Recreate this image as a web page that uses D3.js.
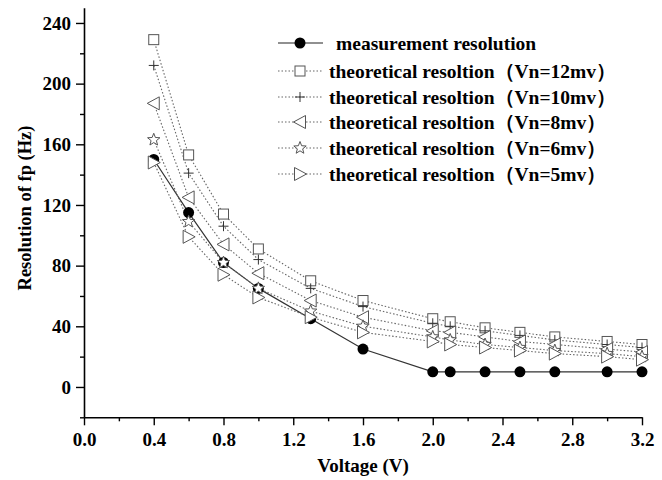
<!DOCTYPE html>
<html>
<head>
<meta charset="utf-8">
<script src="https://cdn.jsdelivr.net/npm/d3@7/dist/d3.min.js"></script>
<style>
  html, body { margin: 0; padding: 0; background: #fff; }
  svg { display: block; }
  text { font-family: "Liberation Serif", "Times New Roman", serif; font-weight: bold; fill: #000; }
</style>
</head>
<body>
<svg id="chart" width="662" height="480"></svg>
<script>
// ---- data ----
const voltage = [0.4, 0.6, 0.8, 1.0, 1.3, 1.6, 2.0, 2.1, 2.3, 2.5, 2.7, 3.0, 3.2];
const measured = [150, 115, 82, 65, 45, 25, 10, 10, 10, 10, 10, 10, 10];
const vn12 = [229, 153, 114, 91, 70, 57, 45, 43, 39, 36, 33, 30, 28];
const vn10 = [212, 141, 106, 84, 65, 53, 42, 40, 37, 34, 31, 28, 26];
const vn8  = [187, 125, 94, 75, 57, 46, 37, 36, 33, 30, 28, 25, 23];
const vn6  = [163, 109, 82, 65, 50, 40, 33, 31, 28, 26, 24, 22, 20];
const vn5  = [148, 99, 74, 59, 46, 36, 30, 28, 26, 24, 22, 20, 18];
const seriesNames = [
  "measurement resolution",
  "theoretical resoltion（Vn=12mv）",
  "theoretical resoltion（Vn=10mv）",
  "theoretical resoltion（Vn=8mv）",
  "theoretical resoltion（Vn=6mv）",
  "theoretical resoltion（Vn=5mv）"
];
const xTicks = [0.0, 0.4, 0.8, 1.2, 1.6, 2.0, 2.4, 2.8, 3.2];
const xMinor = [0.2, 0.6, 1.0, 1.4, 1.8, 2.2, 2.6, 3.0];
const yTicks = [0, 40, 80, 120, 160, 200, 240];
const yMinor = [-20, 20, 60, 100, 140, 180, 220];

// ---- layout ----
const svg = d3.select("#chart");
const x = d3.scaleLinear().domain([0, 3.2]).range([84, 642]);
const y = d3.scaleLinear().domain([-20, 250]).range([417.3, 7.8]);

const grey = "#555";

// axes
const xAxisG = svg.append("g").attr("transform", `translate(0,${y(-20)})`);
xAxisG.call(d3.axisBottom(x).tickValues(xTicks).tickFormat(d3.format(".1f")).tickSize(8).tickSizeOuter(0).tickPadding(7));
const xMinorG = svg.append("g").attr("transform", `translate(0,${y(-20)})`);
xMinorG.call(d3.axisBottom(x).tickValues(xMinor).tickFormat("").tickSize(4).tickSizeOuter(0));
xMinorG.select(".domain").remove();

const yAxisG = svg.append("g").attr("transform", `translate(${x(0)},0)`);
yAxisG.call(d3.axisLeft(y).tickValues(yTicks).tickSize(8).tickSizeOuter(0).tickPadding(5));
const yMinorG = svg.append("g").attr("transform", `translate(${x(0)},0)`);
yMinorG.call(d3.axisLeft(y).tickValues(yMinor).tickFormat("").tickSize(4).tickSizeOuter(0));
yMinorG.select(".domain").remove();

svg.selectAll(".domain").attr("stroke", "#000").attr("stroke-width", 1.6);
svg.selectAll(".tick line").attr("stroke", "#000").attr("stroke-width", 1.4);
svg.selectAll(".tick text").style("font-family", "'Liberation Serif', serif").style("font-weight", "bold").style("font-size", "19px").attr("fill", "#000");

// axis titles
svg.append("text").attr("x", 363).attr("y", 472).attr("text-anchor", "middle")
  .style("font-size", "19px").text("Voltage (V)");
svg.append("text").attr("transform", "translate(31,208) rotate(-90)").attr("text-anchor", "middle")
  .style("font-size", "18.5px").text("Resolution of fp (Hz)");

// symbols
function drawSymbol(g, type, cx, cy) {
  const s = 5;
  if (type === "dot") {
    g.append("circle").attr("cx", cx).attr("cy", cy).attr("r", 5.5).attr("fill", "#000");
  } else if (type === "square") {
    g.append("rect").attr("x", cx - s).attr("y", cy - s).attr("width", 2 * s).attr("height", 2 * s)
      .attr("fill", "#fff").attr("stroke", grey).attr("stroke-width", 1);
  } else if (type === "plus") {
    g.append("path").attr("d", `M${cx - s},${cy}H${cx + s}M${cx},${cy - s}V${cy + s}`)
      .attr("stroke", "#333").attr("stroke-width", 1).attr("fill", "none");
  } else if (type === "left") {
    g.append("path").attr("d", `M${cx - 6.5},${cy}L${cx + 5.5},${cy - 6.5}L${cx + 5.5},${cy + 6.5}Z`)
      .attr("fill", "#fff").attr("stroke", grey).attr("stroke-width", 1);
  } else if (type === "right") {
    g.append("path").attr("d", `M${cx + 6.5},${cy}L${cx - 5.5},${cy - 6.5}L${cx - 5.5},${cy + 6.5}Z`)
      .attr("fill", "#fff").attr("stroke", grey).attr("stroke-width", 1);
  } else if (type === "star") {
    const pts = [];
    for (let i = 0; i < 10; i++) {
      const r = i % 2 === 0 ? 6.5 : 2.8;
      const a = -Math.PI / 2 + i * Math.PI / 5;
      pts.push([cx + r * Math.cos(a), cy + r * Math.sin(a)]);
    }
    g.append("path").attr("d", "M" + pts.map(p => p.join(",")).join("L") + "Z")
      .attr("fill", "#fff").attr("stroke", grey).attr("stroke-width", 1);
  }
}

const series = [
  { name: seriesNames[0], values: measured, sym: "dot", solid: true },
  { name: seriesNames[1], values: vn12, sym: "square" },
  { name: seriesNames[2], values: vn10, sym: "plus" },
  { name: seriesNames[3], values: vn8, sym: "left" },
  { name: seriesNames[4], values: vn6, sym: "star" },
  { name: seriesNames[5], values: vn5, sym: "right" }
];

const line = d3.line().x(d => x(d[0])).y(d => y(d[1]));

series.forEach(s => {
  const data = voltage.map((v, i) => [v, s.values[i]]);
  svg.append("path").datum(data).attr("d", line).attr("fill", "none")
    .attr("stroke", s.solid ? "#333" : "#666").attr("stroke-width", s.solid ? 1.2 : 1.1)
    .attr("stroke-dasharray", s.solid ? null : "1.5,2");
});
series.forEach(s => {
  const g = svg.append("g");
  voltage.forEach((v, i) => drawSymbol(g, s.sym, x(v), y(s.values[i])));
});

// legend
const legY = [43, 71, 97, 122, 148, 174];
series.forEach((s, i) => {
  const g = svg.append("g");
  const ly = legY[i];
  g.append("line").attr("x1", 278).attr("x2", 323).attr("y1", ly).attr("y2", ly)
    .attr("stroke", s.solid ? "#222" : "#666").attr("stroke-width", s.solid ? 1.2 : 1.1)
    .attr("stroke-dasharray", s.solid ? null : "1.5,2");
  drawSymbol(g, s.sym, 300, ly);
  g.append("text").attr("x", i === 0 ? 336 : 329).attr("y", ly + 6.5)
    .style("font-size", "19.5px").text(s.name);
});
</script>
</body>
</html>
